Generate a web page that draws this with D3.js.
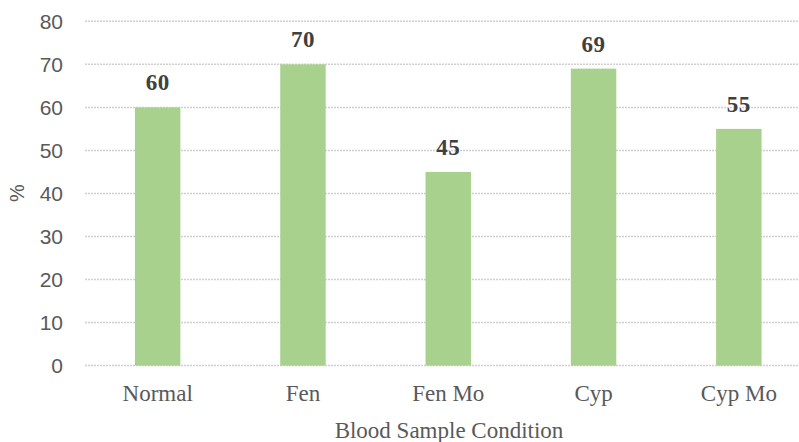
<!DOCTYPE html>
<html><head><meta charset="utf-8">
<script src="https://cdn.jsdelivr.net/npm/d3@7"></script>
<style>body{margin:0;background:#fff}svg{display:block}</style>
</head><body>
<script>
const categories = ["Normal", "Fen", "Fen Mo", "Cyp", "Cyp Mo"];
const values = [60, 70, 45, 69, 55];
const yTicks = [0, 10, 20, 30, 40, 50, 60, 70, 80];
const xTitle = "Blood Sample Condition";
const yTitle = "%";

const W = 799, H = 442;
const svg = d3.select("body").append("svg").attr("width", W).attr("height", H);
const x = d3.scaleBand().domain(categories).range([85, 811.5]).paddingInner(0.687).paddingOuter(0.3435);
const y = d3.scaleLinear().domain([0, 80]).range([365.6, 21.3]);

// gridlines
svg.append("g").selectAll("line").data(yTicks).join("line")
  .attr("x1", 85).attr("x2", W)
  .attr("y1", d => y(d)).attr("y2", d => y(d))
  .attr("stroke", "#d0d0d0").attr("stroke-width", 1.5).attr("stroke-dasharray", "2,1");

// y axis labels
const yAxis = d3.axisLeft(y).tickValues(yTicks).tickSize(0).tickPadding(0);
const ga = svg.append("g").attr("transform", "translate(63,0)").call(yAxis);
ga.select(".domain").remove();
ga.selectAll("text").attr("font-family", "Liberation Sans, Arial, sans-serif").attr("font-size", 21).attr("fill", "#595959").attr("dy", "0.35em");

// bars
svg.append("g").selectAll("rect").data(values).join("rect")
  .attr("x", (d, i) => x(categories[i]))
  .attr("width", x.bandwidth())
  .attr("y", d => y(d))
  .attr("height", d => y(0) - y(d))
  .attr("fill", "#a9d18e");

// data labels
svg.append("g").selectAll("text").data(values).join("text")
  .attr("x", (d, i) => x(categories[i]) + x.bandwidth() / 2)
  .attr("y", d => y(d) - 17)
  .attr("text-anchor", "middle")
  .attr("font-family", "Liberation Serif, Times New Roman, serif")
  .attr("font-weight", "bold").attr("font-size", 23).attr("letter-spacing", 0.5)
  .attr("fill", "#404040")
  .text(d => d);

// x axis labels
const xAxis = d3.axisBottom(x).tickSize(0).tickPadding(0);
const gx = svg.append("g").attr("transform", "translate(0,401)").call(xAxis);
gx.select(".domain").remove();
gx.selectAll("text").attr("font-family", "Liberation Serif, Times New Roman, serif").attr("font-size", 23).attr("fill", "#595959").attr("dy", 0);

// axis titles
svg.append("text").attr("x", 449).attr("y", 438).attr("text-anchor", "middle")
  .attr("font-family", "Liberation Serif, Times New Roman, serif").attr("font-size", 23).attr("fill", "#595959")
  .text(xTitle);
svg.append("text").attr("transform", "translate(24,193) rotate(-90)").attr("text-anchor", "middle")
  .attr("font-family", "Liberation Sans, Arial, sans-serif").attr("font-size", 20).attr("fill", "#595959")
  .text(yTitle);
</script>
</body></html>
